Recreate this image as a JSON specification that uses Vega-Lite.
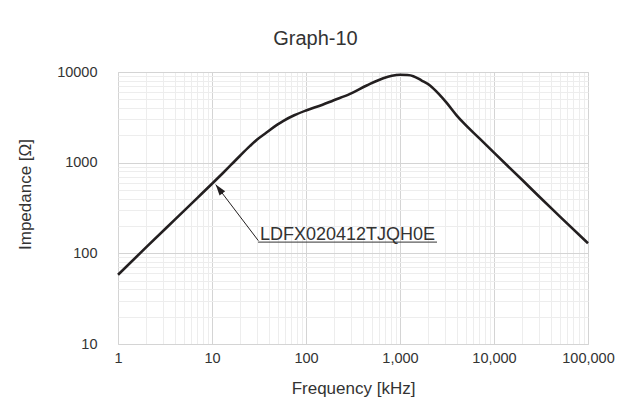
{
  "$schema": "https://vega.github.io/schema/vega-lite/v6.json",
  "width": 470,
  "height": 272,
  "autosize": {"type": "none"},
  "padding": {"left": 118, "top": 72, "right": 46, "bottom": 61},
  "background": "white",
  "config": {
    "view": {"stroke": "#d4d4d4", "strokeWidth": 1},
    "font": "Liberation Sans"
  },
  "title": {
    "text": "Graph-10",
    "font": "Liberation Sans",
    "fontSize": 20,
    "fontWeight": "normal",
    "color": "#333333",
    "anchor": "middle",
    "frame": "bounds",
    "baseline": "alphabetic",
    "offset": -1
  },
  "datasets": {
    "curve": [
      {"f": 1, "z": 58},
      {"f": 2, "z": 117},
      {"f": 4, "z": 234},
      {"f": 7, "z": 409},
      {"f": 10, "z": 585},
      {"f": 13, "z": 765},
      {"f": 16, "z": 950},
      {"f": 20, "z": 1200},
      {"f": 25.4, "z": 1530},
      {"f": 30, "z": 1790},
      {"f": 38, "z": 2150},
      {"f": 50, "z": 2650},
      {"f": 57, "z": 2880},
      {"f": 75, "z": 3330},
      {"f": 100, "z": 3760},
      {"f": 150, "z": 4350},
      {"f": 195, "z": 4850},
      {"f": 294, "z": 5740},
      {"f": 442, "z": 7100},
      {"f": 664, "z": 8550},
      {"f": 820, "z": 9080},
      {"f": 1000, "z": 9310},
      {"f": 1200, "z": 9250},
      {"f": 1386, "z": 9000},
      {"f": 1700, "z": 8050},
      {"f": 2085, "z": 7100},
      {"f": 2600, "z": 5700},
      {"f": 3140, "z": 4560},
      {"f": 4000, "z": 3330},
      {"f": 4717, "z": 2760},
      {"f": 7000, "z": 1850},
      {"f": 10000, "z": 1290},
      {"f": 20000, "z": 643},
      {"f": 30000, "z": 426},
      {"f": 50000, "z": 256},
      {"f": 100000, "z": 129}
    ],
    "arrow": [{"f": 31.1, "z": 138, "f2": 10.95, "z2": 573}],
    "head": [{"f": 10.95, "z": 573}],
    "underline": [{"f": 30.9, "z": 133, "f2": 2476}],
    "label": [{"f": 32.4, "z": 141.6, "label": "LDFX020412TJQH0E"}]
  },
  "encoding": {
    "x": {
      "field": "f",
      "type": "quantitative",
      "scale": {"type": "log", "domain": [1, 100000], "nice": false},
      "axis": {
        "title": "Frequency [kHz]",
        "values": [1,2,3,4,5,6,7,8,9,10,20,30,40,50,60,70,80,90,100,200,300,400,500,600,700,800,900,1000,2000,3000,4000,5000,6000,7000,8000,9000,10000,20000,30000,40000,50000,60000,70000,80000,90000,100000],
        "labelExpr": "indexof([1,10,100,1000,10000,100000], datum.value) >= 0 ? format(datum.value, ',') : ''",
        "grid": true,
        "gridColor": {"condition": {"test": "indexof([1,10,100,1000,10000,100000], datum.value) >= 0", "value": "#d4d4d4"}, "value": "#ededed"},
        "gridWidth": 1,
        "ticks": false,
        "domain": false,
        "labelFlush": false,
        "labelOverlap": false,
        "labelFont": "Liberation Sans",
        "labelFontSize": 14.5,
        "labelColor": "#333333",
        "labelPadding": 7,
        "titleFont": "Liberation Sans",
        "titleFontSize": 17,
        "titleFontWeight": "normal",
        "titleColor": "#333333",
        "titlePadding": 16
      }
    },
    "y": {
      "field": "z",
      "type": "quantitative",
      "scale": {"type": "log", "domain": [10, 10000], "nice": false},
      "axis": {
        "title": "Impedance [Ω]",
        "values": [10,20,30,40,50,60,70,80,90,100,200,300,400,500,600,700,800,900,1000,2000,3000,4000,5000,6000,7000,8000,9000,10000],
        "labelExpr": "indexof([10,100,1000,10000], datum.value) >= 0 ? format(datum.value, 'd') : ''",
        "grid": true,
        "gridColor": {"condition": {"test": "indexof([10,100,1000,10000], datum.value) >= 0", "value": "#d4d4d4"}, "value": "#ededed"},
        "gridWidth": 1,
        "ticks": false,
        "domain": false,
        "labelOverlap": false,
        "labelFont": "Liberation Sans",
        "labelFontSize": 14.5,
        "labelColor": "#333333",
        "labelPadding": 21,
        "titleFont": "Liberation Sans",
        "titleFontSize": 17,
        "titleFontWeight": "normal",
        "titleColor": "#333333",
        "titlePadding": 22,
        "titleY": 122
      }
    }
  },
  "layer": [
    {
      "data": {"name": "curve"},
      "mark": {"type": "line", "color": "#231f20", "strokeWidth": 2.6, "interpolate": "monotone"}
    },
    {
      "data": {"name": "arrow"},
      "mark": {"type": "rule", "color": "#231f20", "strokeWidth": 1},
      "encoding": {
        "x2": {"field": "f2"},
        "y2": {"field": "z2"}
      }
    },
    {
      "data": {"name": "head"},
      "mark": {"type": "point", "shape": "M0,0L-0.32,1L0.32,1Z", "filled": true, "color": "#231f20", "opacity": 1, "size": 484, "angle": 322.7, "strokeWidth": 0}
    },
    {
      "data": {"name": "underline"},
      "mark": {"type": "rule", "color": "#333333", "strokeWidth": 1},
      "encoding": {
        "x2": {"field": "f2"}
      }
    },
    {
      "data": {"name": "label"},
      "mark": {"type": "text", "align": "left", "baseline": "alphabetic", "font": "Liberation Sans", "fontSize": 18, "color": "#333333"},
      "encoding": {
        "text": {"field": "label"}
      }
    }
  ]
}
